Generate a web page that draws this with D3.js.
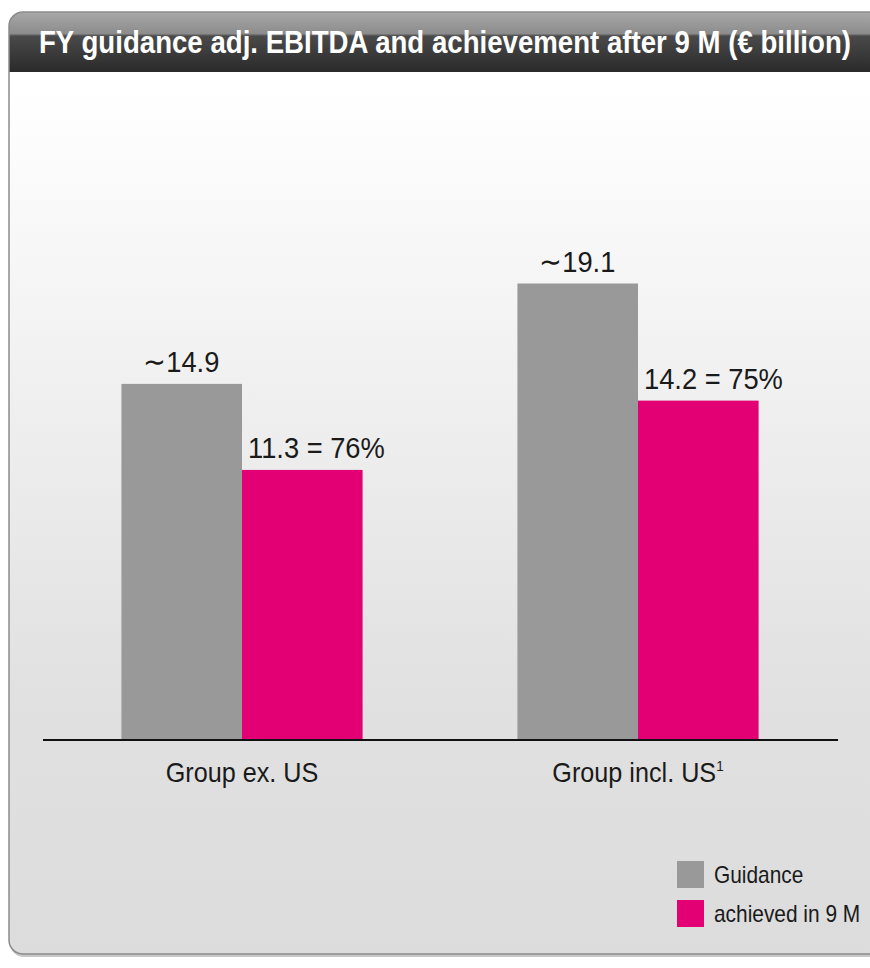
<!DOCTYPE html>
<html lang="en">
<head>
    <meta charset="UTF-8">
    <title>FY guidance adj. EBITDA</title>
    <script src="https://d3js.org/d3.v7.min.js"></script>
    <style>
        body {
            margin: 0;
            background-color: #ffffff;
            font-family: "Liberation Sans", Arial, sans-serif;
        }
    </style>
</head>
<body>
    <div id="chart"></div>
    <script>
        // Chart data
        const categories = ["Group ex. US", "Group incl. US"];
        const series = ["Guidance", "achieved in 9 M"];
        const guidance = [14.9, 19.1];
        const achieved = [11.3, 14.2];
        const guidanceLabels = ["\u223C14.9", "\u223C19.1"];
        const achievedLabels = ["11.3 = 76%", "14.2 = 75%"];
        const title = "FY guidance adj. EBITDA and achievement after 9 M (\u20AC billion)";

        const colors = {"Guidance": "#999999", "achieved in 9 M": "#e20074"};

        const W = 870, H = 968;
        const svg = d3.select("#chart")
          .append("svg")
            .attr("width", W)
            .attr("height", H);

        // the original font is narrower than Arial, so squeeze text sideways
        // (px, py) is the anchor point of the text
        function placeCondensed(sel, px, py, factor) {
            sel.attr("x", 0).attr("y", 0)
               .attr("transform", (d, i) => `translate(${px(d, i)},${py(d, i)}) scale(${factor},1)`);
        }

        const defs = svg.append("defs");

        const bodyGrad = defs.append("linearGradient")
            .attr("id", "bodyGrad")
            .attr("x1", 0).attr("y1", 0).attr("x2", 0).attr("y2", 1);
        bodyGrad.append("stop").attr("offset", "0%").attr("stop-color", "#ffffff");
        bodyGrad.append("stop").attr("offset", "8%").attr("stop-color", "#ffffff");
        bodyGrad.append("stop").attr("offset", "72%").attr("stop-color", "#e1e1e1");
        bodyGrad.append("stop").attr("offset", "100%").attr("stop-color", "#dcdcdc");

        const headGrad = defs.append("linearGradient")
            .attr("id", "headGrad")
            .attr("x1", 0).attr("y1", 0).attr("x2", 0).attr("y2", 1);
        headGrad.append("stop").attr("offset", "0%").attr("stop-color", "#a8a8a8");
        headGrad.append("stop").attr("offset", "36%").attr("stop-color", "#8c8c8c");
        headGrad.append("stop").attr("offset", "40%").attr("stop-color", "#4a4a4a");
        headGrad.append("stop").attr("offset", "100%").attr("stop-color", "#2a2a2a");

        defs.append("clipPath").attr("id", "panelClip")
          .append("rect")
            .attr("x", 9).attr("y", 12)
            .attr("width", 900).attr("height", 942)
            .attr("rx", 14);

        // Panel with shadow
        svg.append("rect")
            .attr("x", 10).attr("y", 14)
            .attr("width", 900).attr("height", 943)
            .attr("rx", 14)
            .attr("fill", "#c8c8c8");

        svg.append("rect")
            .attr("x", 9).attr("y", 12)
            .attr("width", 900).attr("height", 942)
            .attr("rx", 14)
            .attr("fill", "url(#bodyGrad)");

        const headerH = 60;
        svg.append("rect")
            .attr("clip-path", "url(#panelClip)")
            .attr("x", 9).attr("y", 12)
            .attr("width", 900).attr("height", headerH)
            .attr("fill", "url(#headGrad)");

        svg.append("rect")
            .attr("x", 9).attr("y", 12)
            .attr("width", 900).attr("height", 942)
            .attr("rx", 14)
            .attr("fill", "none")
            .attr("stroke", "#8c8c8c")
            .attr("stroke-width", 1.5);

        const titleText = svg.append("text")
            .attr("fill", "#ffffff")
            .attr("font-family", "'Liberation Sans', Arial, sans-serif")
            .attr("font-weight", "bold")
            .attr("font-size", 31)
            .text(title);
        const titleScale = 812 / titleText.node().getComputedTextLength();
        placeCondensed(titleText, () => 39, () => 53, titleScale);

        // Scales
        const baseY = 740;
        const x = d3.scaleBand()
            .domain(categories)
            .range([44, 836])
            .paddingInner(0.391)
            .paddingOuter(0.1955);

        const xSub = d3.scaleBand()
            .domain(series)
            .range([0, x.bandwidth()]);

        const y = d3.scaleLinear()
            .domain([0, 20])
            .range([baseY, baseY - 478]);

        const rows = categories.map((c, i) => ({
            category: c,
            values: [
                {key: series[0], value: guidance[i], label: guidanceLabels[i]},
                {key: series[1], value: achieved[i], label: achievedLabels[i]}
            ]
        }));

        const groups = svg.selectAll(".group")
            .data(rows)
            .enter()
            .append("g")
            .attr("class", "group")
            .attr("transform", d => `translate(${x(d.category)},0)`);

        groups.selectAll("rect")
            .data(d => d.values)
            .enter()
            .append("rect")
            .attr("x", d => xSub(d.key))
            .attr("y", d => y(d.value))
            .attr("width", xSub.bandwidth())
            .attr("height", d => y(0) - y(d.value))
            .attr("fill", d => colors[d.key]);

        groups.selectAll(".vlabel")
            .data(d => d.values)
            .enter()
            .append("text")
            .attr("class", "vlabel")
            .attr("font-size", 30)
            .attr("fill", "#1a1a1a")
            .text(d => d.label)
            .call(placeCondensed,
                  (d, i) => xSub(d.key) + (i === 0 ? 22 : 6),
                  d => y(d.value) - 12,
                  0.91);

        // Baseline
        svg.append("line")
            .attr("x1", 43).attr("x2", 838)
            .attr("y1", baseY).attr("y2", baseY)
            .attr("stroke", "#111111")
            .attr("stroke-width", 2);

        // Category labels
        const catLabels = svg.selectAll(".cat")
            .data(categories)
            .enter()
            .append("text")
            .attr("class", "cat")
            .attr("text-anchor", "middle")
            .attr("font-size", 28)
            .attr("fill", "#1a1a1a");

        catLabels.append("tspan").text(d => d);
        catLabels.filter((d, i) => i === 1)
          .append("tspan")
            .attr("dy", -11)
            .attr("font-size", 15)
            .text("1");

        catLabels.call(placeCondensed,
                       d => x(d) + x.bandwidth() / 2,
                       () => 782,
                       0.9);

        // Legend
        const legend = svg.selectAll(".legend")
            .data(series)
            .enter()
            .append("g")
            .attr("class", "legend")
            .attr("transform", (d, i) => `translate(677,${861 + i * 39})`);

        legend.append("rect")
            .attr("width", 27)
            .attr("height", 27)
            .attr("fill", d => colors[d]);

        legend.append("text")
            .attr("font-size", 24)
            .attr("fill", "#1a1a1a")
            .text(d => d)
            .call(placeCondensed, () => 37, () => 22, 0.87);
    </script>
</body>
</html>
